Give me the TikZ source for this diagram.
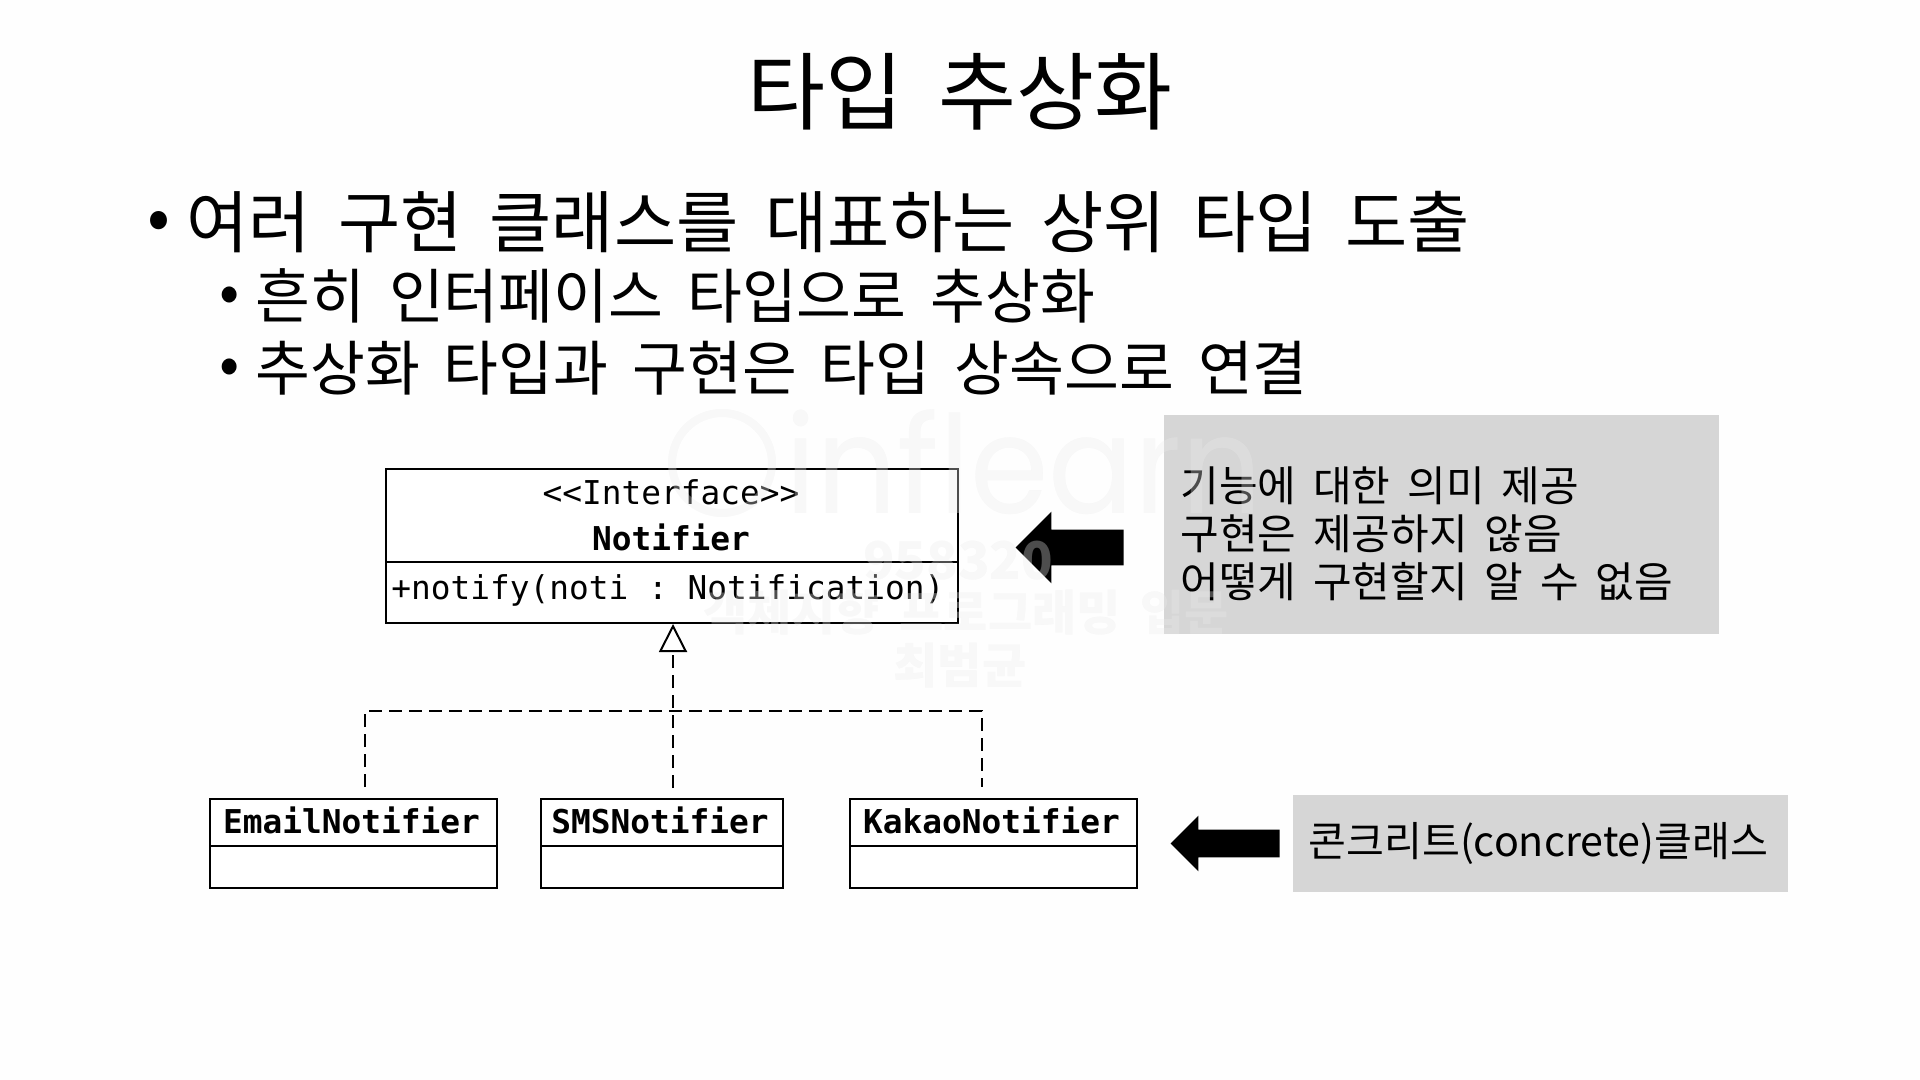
\documentclass[tikz,border=0pt]{standalone}
\usepackage{fontspec}
\setmainfont[WordSpace=1.8]{Noto Sans CJK KR}
\setmonofont{DejaVu Sans Mono}
\newfontfamily\logofont{Poppins}
\usetikzlibrary{arrows.meta}
\usetikzlibrary{shapes.arrows}

\tikzset{
  classbox/.style={draw=black, fill=white, line width=1pt, inner sep=0pt},
  classtext/.style={anchor=base, inner sep=0pt, font=\fontsize{16.4}{20}\ttfamily},
  classname/.style={classtext, font=\fontsize{16.4}{20}\ttfamily\bfseries},
  notebox/.style={fill=notegray, inner sep=0pt},
  notetext/.style={inner sep=0pt, align=left, font=\fontsize{21}{24}\selectfont},
  slidetext/.style={anchor=base west, inner sep=0pt, font=\fontsize{29.8}{34}\selectfont},
  headtext/.style={slidetext, font=\fontsize{33.8}{38}\selectfont},
  blockarrow/.style={single arrow, fill=black, inner xsep=0pt, shape border rotate=180, single arrow head indent=0pt},
  realize/.style={line width=0.9pt, dash pattern=on 6.5pt off 3.5pt},
  markglow/.style={anchor=base, inner sep=0pt, text=black, opacity=0.035},
  marktext/.style={anchor=base, inner sep=0pt, text=white, opacity=0.3},
}

\begin{document}
\begin{tikzpicture}[x=0.5pt, y=-0.5pt]
      % Define colors
      \definecolor{notegray}{RGB}{214,214,214}
      \definecolor{slidewhite}{RGB}{254,254,254}

      % Page
      \fill[slidewhite] (0,0) rectangle (1920,1080);
      \useasboundingbox (0,0) rectangle (1920,1080);

      % Title and bullets
      \node[anchor=base, inner sep=0pt, font=\fontsize{42.4}{48}\selectfont] (title) at (960,124) {타입 추상화};
      \node[headtext] (dotA) at (147,241) {•};
      \node[headtext] (lineA) at (186,248) {여러 구현 클래스를 대표하는 상위 타입 도출};
      \node[slidetext] (dotB) at (219,313) {•};
      \node[slidetext] (lineB) at (255,319) {흔히 인터페이스 타입으로 추상화};
      \node[slidetext] (dotC) at (219,384) {•};
      \node[slidetext] (lineC) at (255,390) {추상화 타입과 구현은 타입 상속으로 연결};

      % Interface class
      \node[classbox, minimum width=286pt, minimum height=46.5pt] (notifierHead) at (672,515.5) {};
      \node[classbox, minimum width=286pt, minimum height=30.5pt] (notifierBody) at (672,592.5) {};
      \node[classtext] (stereotype) at (671,504) {<{}<Interface>{}>};
      \node[classname] (notifierName) at (671,550) {Notifier};
      \node[classtext, anchor=base west] (notifyOp) at (391,599) {+notify(noti : Notification)};

      % Concrete classes
      \node[classbox, minimum width=143.5pt, minimum height=23.5pt] (emailHead) at (353.5,822.5) {};
      \node[classbox, minimum width=143.5pt, minimum height=21pt] (emailBody) at (353.5,867) {};
      \node[classname] (emailName) at (351.5,833) {EmailNotifier};

      \node[classbox, minimum width=121pt, minimum height=23.5pt] (smsHead) at (662,822.5) {};
      \node[classbox, minimum width=121pt, minimum height=21pt] (smsBody) at (662,867) {};
      \node[classname] (smsName) at (660,833) {SMSNotifier};

      \node[classbox, minimum width=143.5pt, minimum height=23.5pt] (kakaoHead) at (993.5,822.5) {};
      \node[classbox, minimum width=143.5pt, minimum height=21pt] (kakaoBody) at (993.5,867) {};
      \node[classname] (kakaoName) at (991.5,833) {KakaoNotifier};

      % Connector ends
      \coordinate (emailEnd) at (365,787);
      \coordinate (emailTurn) at (365,711);
      \coordinate (kakaoTurn) at (982,711);
      \coordinate (kakaoEnd) at (982,787);
      \coordinate (smsEnd) at (673,788);

      % Connecting lines
      \draw[realize] (emailEnd) -- (emailTurn) -- (kakaoTurn) -- (kakaoEnd);
      \draw[realize, -{Triangle[open, length=14pt, width=14pt, fill=white, line width=1pt]}] (smsEnd) -- (notifierBody.south -| smsEnd);

      % Notes
      \node[notebox, minimum width=277.5pt, minimum height=109.5pt] (interfaceNote) at (1441.5,524.5) {};
      \node[notetext, anchor=west] (interfaceText) at (1180,534) {기능에 대한 의미 제공\\구현은 제공하지 않음\\어떻게 구현할지 알 수 없음};
      \node[notebox, minimum width=247.5pt, minimum height=48.5pt] (concreteNote) at (1540.5,843.5) {};
      \node[notetext, anchor=west, font=\fontsize{20.6}{24}\selectfont] (concreteText) at (1308,843) {콘크리트(concrete)클래스};

      % Block arrows
      \node[blockarrow, inner ysep=8.75pt, minimum height=54pt, minimum width=35.5pt, single arrow head extend=9pt] (interfaceArrow) at (1078.5,547.5) {};
      \node[blockarrow, inner ysep=6.75pt, minimum height=54.5pt, minimum width=27.5pt, single arrow head extend=7pt] (concreteArrow) at (1232,843.5) {};

      % Watermark
      \foreach \layer/\ringcolor in {markglow/black, marktext/white} {
        \node[\layer, font=\fontsize{26}{30}\selectfont\bfseries] (markId) at (958,579) {958320};
        \node[\layer, font=\fontsize{24}{28}\selectfont\bfseries] (markCourse) at (966,630) {객체지향 프로그래밍 입문};
        \node[\layer, font=\fontsize{24}{28}\selectfont\bfseries] (markName) at (960,683) {최범균};
        \node[\layer, font=\fontsize{68}{72}\logofont, transform shape, xscale=0.93] (markLogo) at (1024,513) {inflearn};
        \node[\layer, draw=\ringcolor, circle, anchor=center, minimum size=50pt, line width=4pt] (markRing) at (722,463) {};
      }

\end{tikzpicture}
\end{document}
